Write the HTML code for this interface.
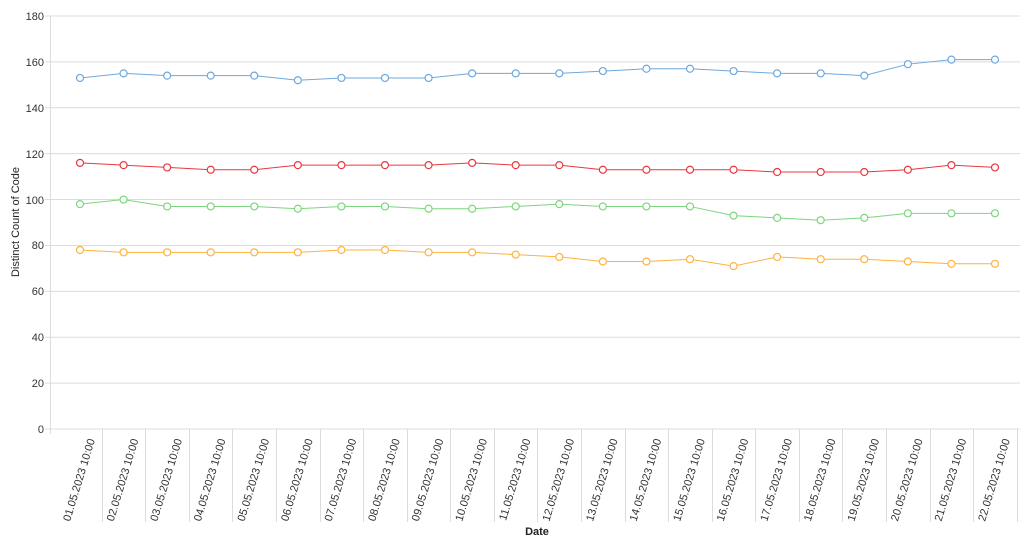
<!DOCTYPE html>
<html><head><meta charset="utf-8"><style>
html,body{margin:0;padding:0;background:#fff;}
svg{display:block;font-family:"Liberation Sans",sans-serif;}
</style></head><body>
<svg id="s" width="1024" height="544" viewBox="0 0 1024 544">
<rect x="0" y="0" width="1024" height="544" fill="#fff"/>
<g id="grid" stroke="#dcdcdc" stroke-width="1"></g>
<g font-size="11" fill="#333" text-anchor="end">
<text x="44" y="433">0</text><text x="44" y="387">20</text><text x="44" y="341">40</text>
<text x="44" y="295">60</text><text x="44" y="249">80</text><text x="44" y="204">100</text>
<text x="44" y="158">120</text><text x="44" y="112">140</text><text x="44" y="66">160</text>
<text x="44" y="20">180</text>
</g>
<text transform="translate(19,222) rotate(-90)" font-size="11" fill="#222" text-anchor="middle">Distinct Count of Code</text>
<text x="537" y="535" font-size="11" font-weight="bold" fill="#222" text-anchor="middle">Date</text>
<g id="xl" font-size="11" fill="#333" text-anchor="end">
<text>01.05.2023 10:00</text><text>02.05.2023 10:00</text><text>03.05.2023 10:00</text>
<text>04.05.2023 10:00</text><text>05.05.2023 10:00</text><text>06.05.2023 10:00</text>
<text>07.05.2023 10:00</text><text>08.05.2023 10:00</text><text>09.05.2023 10:00</text>
<text>10.05.2023 10:00</text><text>11.05.2023 10:00</text><text>12.05.2023 10:00</text>
<text>13.05.2023 10:00</text><text>14.05.2023 10:00</text><text>15.05.2023 10:00</text>
<text>16.05.2023 10:00</text><text>17.05.2023 10:00</text><text>18.05.2023 10:00</text>
<text>19.05.2023 10:00</text><text>20.05.2023 10:00</text><text>21.05.2023 10:00</text>
<text>22.05.2023 10:00</text>
</g>
<g id="series"></g>
</svg>
<script>
var NS="http://www.w3.org/2000/svg";
function el(p,t,a){var e=document.createElementNS(NS,t);for(var k in a)e.setAttribute(k,a[k]);p.appendChild(e);return e;}
var g=document.getElementById("grid");
function Y(v){return 429-v*413/180;}
function X(i){return 80+i*43.571;}
for(var v=0;v<=180;v+=20){var y=Y(v);el(g,"line",{x1:45,x2:1020,y1:y,y2:y});}
el(g,"line",{x1:50.5,x2:50.5,y1:16,y2:434});
for(var i=1;i<=22;i++){var x=Math.round(58.2+i*43.571)+0.5;el(g,"line",{x1:x,x2:x,y1:429,y2:522});}
var xl=document.getElementById("xl").children;
for(var i=0;i<xl.length;i++){xl[i].setAttribute("transform","translate("+(X(i)+15)+",440) rotate(-73)");}
var data=[
["#6fa8dc",[153,155,154,154,154,152,153,153,153,155,155,155,156,157,157,156,155,155,154,159,161,161]],
["#e8383f",[116,115,114,113,113,115,115,115,115,116,115,115,113,113,113,113,112,112,112,113,115,114]],
["#7dd67d",[98,100,97,97,97,96,97,97,96,96,97,98,97,97,97,93,92,91,92,94,94,94]],
["#ffb23f",[78,77,77,77,77,77,78,78,77,77,76,75,73,73,74,71,75,74,74,73,72,72]]];
var sg=document.getElementById("series");
data.forEach(function(d){
 var pts=d[1].map(function(v,i){return X(i)+","+Y(v);}).join(" ");
 el(sg,"polyline",{points:pts,fill:"none",stroke:d[0],"stroke-width":1});
 d[1].forEach(function(v,i){el(sg,"circle",{cx:X(i),cy:Y(v),r:3.5,fill:"#fff",stroke:d[0],"stroke-width":1.2});});
});
</script>
</body></html>
